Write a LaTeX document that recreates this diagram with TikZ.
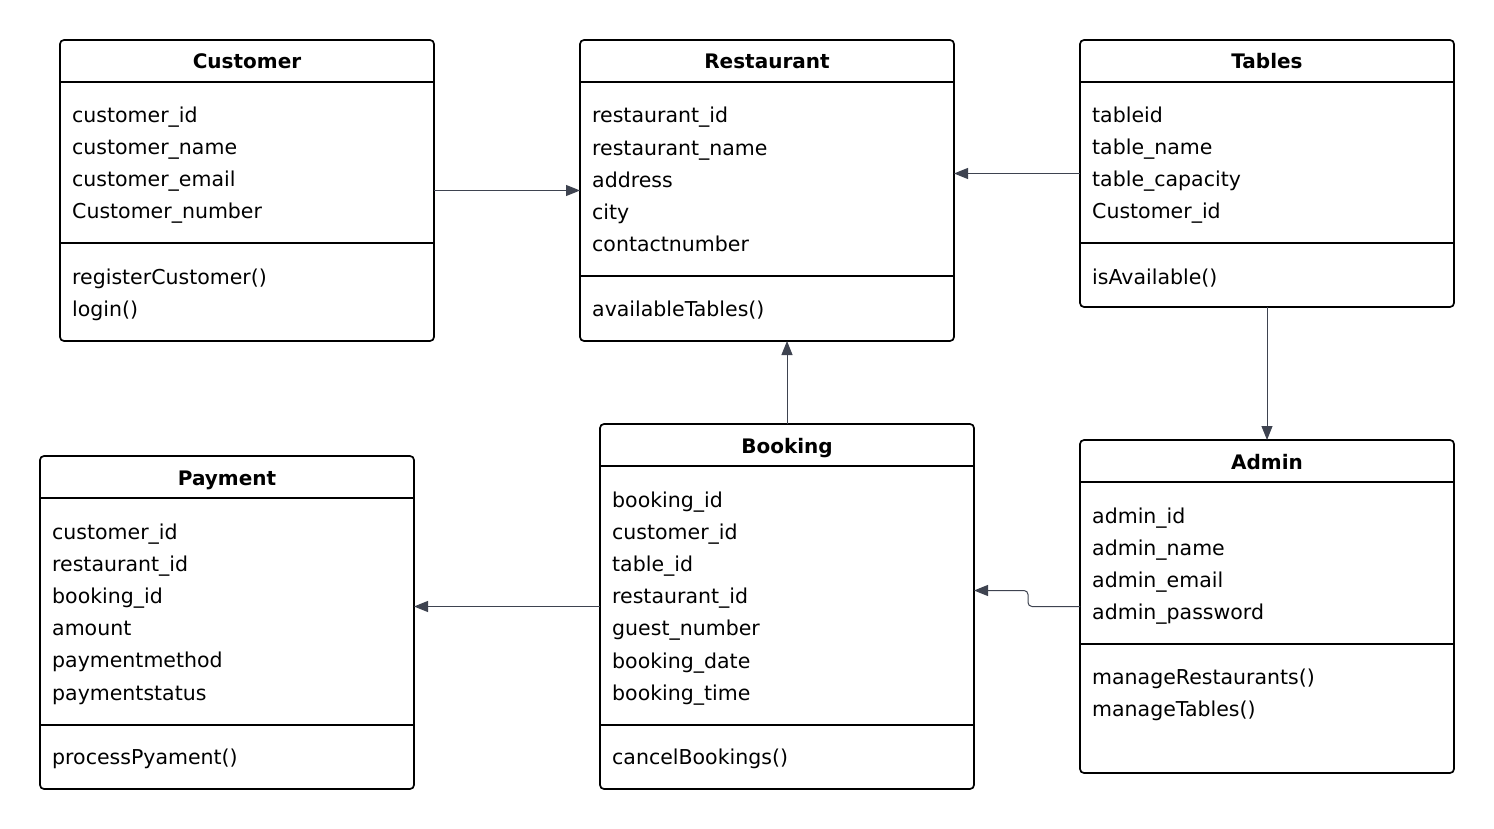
\documentclass[tikz,border=0pt]{standalone}
\usepackage{fontspec}
\setmainfont{DejaVu Sans}
\usetikzlibrary{arrows.meta,calc}
\definecolor{connc}{RGB}{62,67,80}
\begin{document}
\begin{tikzpicture}[x=1pt,y=-1pt,
  classbox/.style={draw=black, line width=1.7pt, rounded corners=4pt, anchor=north west, inner sep=0pt, outer sep=0pt},
  sepline/.style={draw=black, line width=1.7pt},
  txt/.style={anchor=base west, inner sep=0pt, font=\fontsize{20.5}{24}\selectfont},
  ttl/.style={anchor=base, inner sep=0pt, font=\fontsize{20}{24}\selectfont\bfseries},
  conn/.style={draw=connc, line width=1pt, -{Triangle[length=14pt,width=11pt]}}]
\useasboundingbox (0,0) rectangle (1494,829);

% ---- Customer
\node[classbox, minimum width=374pt, minimum height=301pt] (cust) at (60,40) {};
\node[ttl] (cust-t) at (247,69) {Customer};
\draw[sepline] (cust.west |- 0,82) -- (cust.east |- 0,82);
\draw[sepline] (cust.west |- 0,243) -- (cust.east |- 0,243);
\foreach \t [count=\i from 0] in {customer\_id,customer\_name,customer\_email,Customer\_number}
  \node[txt] (cust-a\i) at (72,123+32*\i) {\t};
\foreach \t [count=\i from 0] in {registerCustomer(),login()}
  \node[txt] (cust-m\i) at (72,284+32*\i) {\t};

% ---- Restaurant
\node[classbox, minimum width=374pt, minimum height=301pt] (rest) at (580,40) {};
\node[ttl] (rest-t) at (767,69) {Restaurant};
\draw[sepline] (rest.west |- 0,82) -- (rest.east |- 0,82);
\draw[sepline] (rest.west |- 0,276) -- (rest.east |- 0,276);
\foreach \t [count=\i from 0] in {restaurant\_id,restaurant\_name,address,city,contactnumber}
  \node[txt] (rest-a\i) at (592,123+32.2*\i) {\t};
\node[txt] (rest-m0) at (592,316) {availableTables()};

% ---- Tables
\node[classbox, minimum width=374pt, minimum height=267pt] (tab) at (1080,40) {};
\node[ttl] (tab-t) at (1267,69) {Tables};
\draw[sepline] (tab.west |- 0,82) -- (tab.east |- 0,82);
\draw[sepline] (tab.west |- 0,243) -- (tab.east |- 0,243);
\foreach \t [count=\i from 0] in {tableid,table\_name,table\_capacity,Customer\_id}
  \node[txt] (tab-a\i) at (1092,123+32*\i) {\t};
\node[txt] (tab-m0) at (1092,284) {isAvailable()};

% ---- Payment
\node[classbox, minimum width=374pt, minimum height=333pt] (pay) at (40,456) {};
\node[ttl] (pay-t) at (227,485) {Payment};
\draw[sepline] (pay.west |- 0,498) -- (pay.east |- 0,498);
\draw[sepline] (pay.west |- 0,725) -- (pay.east |- 0,725);
\foreach \t [count=\i from 0] in {customer\_id,restaurant\_id,booking\_id,amount,paymentmethod,paymentstatus}
  \node[txt] (pay-a\i) at (52,539+32.2*\i) {\t};
\node[txt] (pay-m0) at (52,764) {processPyament()};

% ---- Booking
\node[classbox, minimum width=374pt, minimum height=365pt] (book) at (600,424) {};
\node[ttl] (book-t) at (787,453) {Booking};
\draw[sepline] (book.west |- 0,466) -- (book.east |- 0,466);
\draw[sepline] (book.west |- 0,725) -- (book.east |- 0,725);
\foreach \t [count=\i from 0] in {booking\_id,customer\_id,table\_id,restaurant\_id,guest\_number,booking\_date,booking\_time}
  \node[txt] (book-a\i) at (612,507+32.2*\i) {\t};
\node[txt] (book-m0) at (612,764) {cancelBookings()};

% ---- Admin
\node[classbox, minimum width=374pt, minimum height=333pt] (adm) at (1080,440) {};
\node[ttl] (adm-t) at (1267,469) {Admin};
\draw[sepline] (adm.west |- 0,482) -- (adm.east |- 0,482);
\draw[sepline] (adm.west |- 0,644) -- (adm.east |- 0,644);
\foreach \t [count=\i from 0] in {admin\_id,admin\_name,admin\_email,admin\_password}
  \node[txt] (adm-a\i) at (1092,523+32.2*\i) {\t};
\foreach \t [count=\i from 0] in {manageRestaurants(),manageTables()}
  \node[txt] (adm-m\i) at (1092,684+32*\i) {\t};

% ---- Connectors
\draw[conn] (cust.east) -- (rest.west);
\draw[conn] (tab.west) -- (rest.east |- tab.west);
\draw[conn] (book.north) -- (rest.south -| book.north);
\draw[conn] (tab.south) -- (adm.north);
\draw[conn] (book.west) -- (pay.east |- book.west);
\draw[conn, rounded corners=4pt] (adm.west) -- ++(-52,0) |- ($(book.east)+(0,-16)$);
\end{tikzpicture}
\end{document}
